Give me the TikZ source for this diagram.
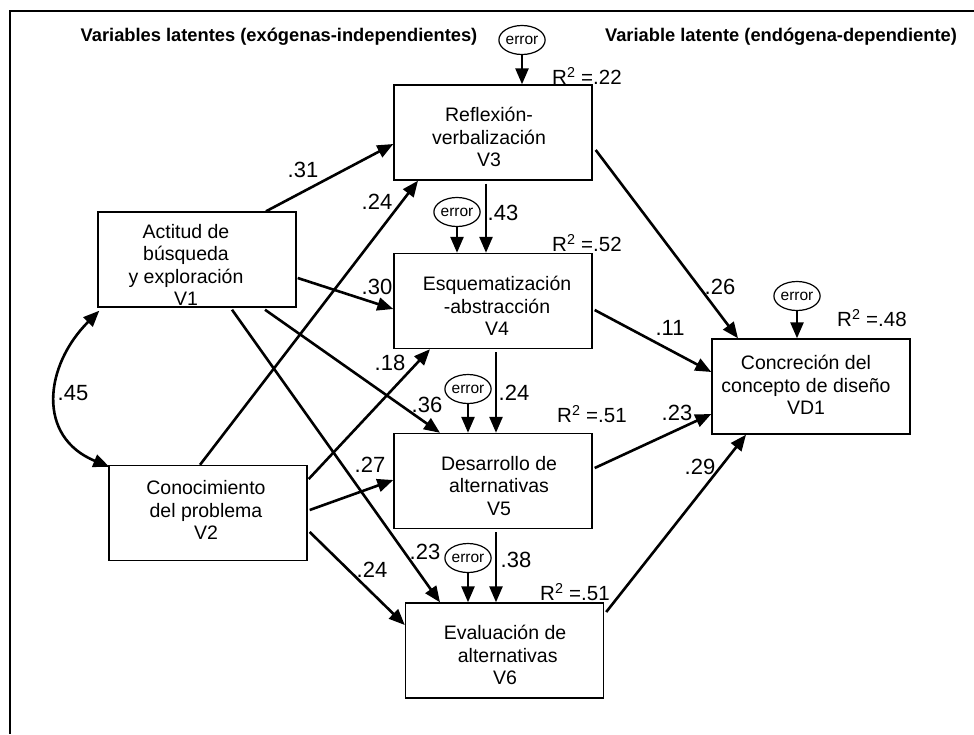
\documentclass[tikz,border=0pt]{standalone}
\usepackage{fontspec}
\setmainfont{Liberation Sans}
\usetikzlibrary{arrows.meta,calc,shapes.geometric}
\begin{document}
\begin{tikzpicture}[x=1pt,y=-1pt,
  box/.style={draw,line width=1.4pt,minimum width=198pt,minimum height=95pt,inner sep=0pt},
  boxtext/.style={align=center,inner sep=0pt,font=\fontsize{19.5}{22.5}\selectfont},
  err/.style={draw,ellipse,line width=1.2pt,minimum width=45pt,minimum height=29pt,inner sep=0pt,font=\fontsize{15.5}{17}\selectfont},
  arr/.style={line width=2.6pt,-{Triangle[length=16pt,width=13pt]}},
  lab/.style={inner sep=0pt,font=\fontsize{22}{24}\selectfont},
  rsq/.style={anchor=west,inner sep=0pt,font=\fontsize{20.5}{22}\selectfont},
  head/.style={inner sep=0pt,font=\fontsize{18.3}{20}\selectfont\bfseries}]
\useasboundingbox (0,0) rectangle (974,734);
% frame (top and left only)
\draw[line width=1.5pt] (974,11) -- (10,11) -- (10,734);
% headers
\node[head] (h1) at (279,37) {Variables latentes (exógenas-independientes)};
\node[head] (h2) at (781,37) {Variable latente (endógena-dependiente)};
% boxes
\node[box] (v1) at (197,259.5) {};
\node[box] (v2) at (208,513) {};
\node[box] (v3) at (493,132.5) {};
\node[box] (v4) at (493,301) {};
\node[box] (v5) at (493,481) {};
\node[box] (v6) at (504.5,650.5) {};
\node[box] (vd1) at (811,386.5) {};
% box texts
\node[boxtext] (t1) at (186,265) {Actitud de\\búsqueda\\y exploración\\V1};
\node[boxtext] (t2) at (206,510) {Conocimiento\\del problema\\V2};
\node[boxtext] (t3) at (489,137) {Reflexión-\\verbalización\\V3};
\node[boxtext] (t4) at (497,306) {Esquematización\\-abstracción\\V4};
\node[boxtext] (t5) at (499,486) {Desarrollo de\\alternativas\\V5};
\node[boxtext] (t6) at (505,655) {Evaluación de\\\ alternativas\\V6};
\node[boxtext] (td) at (806,385) {Concreción del\\concepto de diseño\\VD1};
% error ellipses
\node[err] (e3) at (522,40) {error};
\node[err] (e4) at (457,212) {error};
\node[err] (e5) at (468,389) {error};
\node[err] (e6) at (468,558) {error};
\node[err] (ed) at (797,296) {error};
\draw[arr] (e3.south) -- (e3.south |- v3.north);
\draw[arr] (e4.south) -- (e4.south |- v4.north);
\draw[arr] (e5.south) -- (e5.south |- v5.north);
\draw[arr] (e6.south) -- (e6.south |- v6.north);
\draw[arr] (ed.south) -- (ed.south |- vd1.north);
% R squared
\node[rsq] (r3) at (552,76) {R\textsuperscript{2} =.22};
\node[rsq] (r4) at (552,243) {R\textsuperscript{2} =.52};
\node[rsq] (r5) at (557,414) {R\textsuperscript{2} =.51};
\node[rsq] (r6) at (540,592) {R\textsuperscript{2} =.51};
\node[rsq] (rd) at (837,318) {R\textsuperscript{2} =.48};
% paths
\draw[arr] ($(v1.north)+(69,0)$) -- ($(v3.west)+(0,11.5)$);
\draw[arr] ($(v2.north)+(-8,0)$) -- ($(v3.south)+(-75,0)$);
\draw[arr] ($(v1.east)+(1,18.5)$) -- ($(v4.west)+(0,8)$);
\draw[arr] ($(v2.east)+(1,-34)$) -- ($(v4.south)+(-63,0)$);
\draw[arr] ($(v1.south)+(68,2)$) -- ($(v5.north)+(-53,0)$);
\draw[arr] ($(v2.east)+(2,-3)$) -- ($(v5.west)+(0,-1)$);
\draw[arr] ($(v1.south)+(35,2)$) -- ($(v6.north)+(-64.5,0)$);
\draw[arr] ($(v2.east)+(2,19)$) -- ($(v6.west)+(0,-25.5)$);
\draw[arr] ($(v3.east)+(3,17.5)$) -- ($(vd1.north)+(-73,0)$);
\draw[arr] ($(v4.east)+(2,9)$) -- ($(vd1.west)+(0,-14.5)$);
\draw[arr] ($(v5.east)+(2,-13)$) -- ($(vd1.west)+(0,27.5)$);
\draw[arr] ($(v6.east)+(2,-38.5)$) -- ($(vd1.south)+(-65,0)$);
\draw[arr] ($(v3.south)+(-7,3)$) -- ($(v4.north)+(-7,0)$);
\draw[arr] ($(v4.south)+(3,3)$) -- ($(v5.north)+(3,0)$);
\draw[arr] ($(v5.south)+(3,3)$) -- ($(v6.north)+(-8.5,0)$);
% correlation
\draw[line width=2.6pt,{Triangle[length=16pt,width=13pt]}-{Triangle[length=16pt,width=13pt]}]
  ($(v1.south west)+(2,3)$) .. controls +(-55,55) and +(-73,-30) .. ($(v2.north west)+(1,2)$);
% coefficient labels
\node[lab] (l31) at (303,170) {.31};
\node[lab] (l24a) at (377,202) {.24};
\node[lab] (l30) at (377,287) {.30};
\node[lab] (l18) at (390,363) {.18};
\node[lab] (l36) at (427,405) {.36};
\node[lab] (l27) at (370,465) {.27};
\node[lab] (l23a) at (425,552) {.23};
\node[lab] (l24b) at (372,570) {.24};
\node[lab] (l26) at (720,287) {.26};
\node[lab] (l11) at (670,328) {.11};
\node[lab] (l23b) at (677,413) {.23};
\node[lab] (l29) at (700,467) {.29};
\node[lab] (l43) at (503,213) {.43};
\node[lab] (l24c) at (514,393) {.24};
\node[lab] (l38) at (516,560) {.38};
\node[lab] (l45) at (73,393) {.45};
\end{tikzpicture}
\end{document}
